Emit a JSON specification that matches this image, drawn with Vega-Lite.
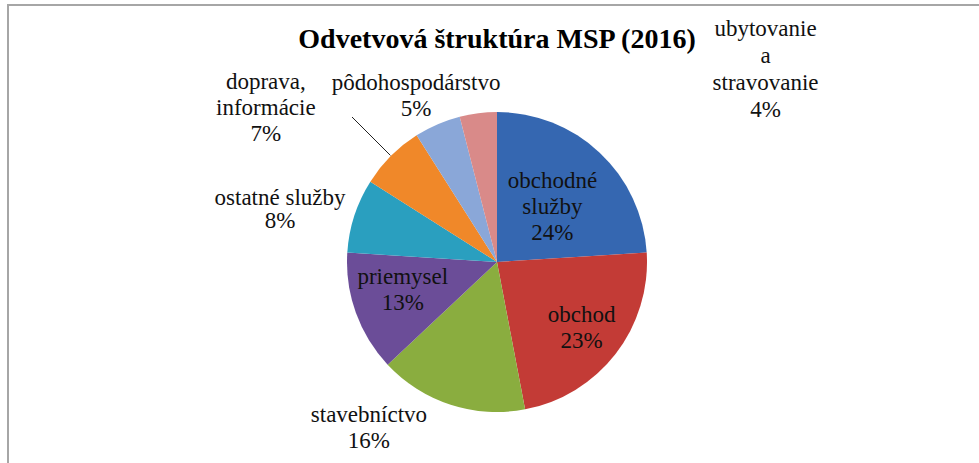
{
  "$schema": "https://vega.github.io/schema/vega-lite/v6.json",
  "autosize": "none",
  "width": 978,
  "height": 514,
  "padding": {"left": 8, "top": 5, "right": -7, "bottom": -56},
  "background": "white",
  "config": {
    "view": {"stroke": null}
  },
  "title": {
    "text": "Odvetvová štruktúra MSP (2016)",
    "font": "Liberation Serif",
    "fontSize": 28,
    "fontWeight": "bold",
    "color": "#000000",
    "anchor": "middle",
    "frame": "group",
    "baseline": "alphabetic",
    "offset": -72
  },
  "data": {
    "values": [
      {"sector": "obchodné služby", "value": 24, "label": "obchodné\nslužby\n24%"},
      {"sector": "obchod", "value": 23, "label": "obchod\n23%"},
      {"sector": "stavebníctvo", "value": 16, "label": "stavebníctvo\n16%"},
      {"sector": "priemysel", "value": 13, "label": "priemysel\n13%"},
      {"sector": "ostatné služby", "value": 8, "label": "ostatné služby\n8%"},
      {"sector": "doprava, informácie", "value": 7, "label": "doprava,\ninformácie\n7%"},
      {"sector": "pôdohospodárstvo", "value": 5, "label": "pôdohospodárstvo\n5%"},
      {"sector": "ubytovanie a stravovanie", "value": 4, "label": "ubytovanie\na\nstravovanie\n4%"}
    ]
  },
  "layer": [
    {
      "data": {"values": [{"frame": "chart area"}]},
      "mark": {"type": "rect", "fill": null, "stroke": "#a6a6a6", "strokeWidth": 2},
      "encoding": {}
    },
    {
      "mark": {"type": "arc", "outerRadius": 150},
      "encoding": {
        "theta": {"field": "value", "type": "quantitative", "stack": true},
        "order": {"field": "value", "type": "quantitative", "sort": "descending"},
        "color": {
          "field": "sector",
          "type": "nominal",
          "legend": null,
          "scale": {
            "domain": ["obchodné služby", "obchod", "stavebníctvo", "priemysel", "ostatné služby", "doprava, informácie", "pôdohospodárstvo", "ubytovanie a stravovanie"],
            "range": ["#3567b1", "#c33b36", "#8aad3f", "#6b4d98", "#2a9fbf", "#f08829", "#8aa7d8", "#d98a89"]
          }
        }
      }
    },
    {
      "mark": {"type": "arc", "filled": false, "innerRadius": 151, "outerRadius": 205, "padAngle": 0.6, "stroke": "#222222", "strokeWidth": 1},
      "encoding": {
        "theta": {"field": "value", "type": "quantitative", "stack": true},
        "order": {"field": "value", "type": "quantitative", "sort": "descending"},
        "strokeOpacity": {"condition": {"test": "datum.sector === 'doprava, informácie'", "value": 1}, "value": 0}
      }
    },
    {
      "mark": {"type": "text", "font": "Liberation Serif", "fontSize": 23, "lineBreak": "\n", "lineHeight": 26, "align": "center", "baseline": "middle", "color": "#111111", "radius": 78, "dx": 2, "dy": -24},
      "encoding": {
        "theta": {"field": "value", "type": "quantitative", "stack": true},
        "order": {"field": "value", "type": "quantitative", "sort": "descending"},
        "text": {"condition": {"test": "datum.sector === 'obchodné služby'", "field": "label", "type": "nominal"}, "value": ""}
      }
    },
    {
      "mark": {"type": "text", "font": "Liberation Serif", "fontSize": 23, "lineBreak": "\n", "lineHeight": 26, "align": "center", "baseline": "middle", "color": "#111111", "radius": 107, "dy": -13},
      "encoding": {
        "theta": {"field": "value", "type": "quantitative", "stack": true},
        "order": {"field": "value", "type": "quantitative", "sort": "descending"},
        "text": {"condition": {"test": "datum.sector === 'obchod'", "field": "label", "type": "nominal"}, "value": ""}
      }
    },
    {
      "mark": {"type": "text", "font": "Liberation Serif", "fontSize": 23, "lineBreak": "\n", "lineHeight": 26, "align": "center", "baseline": "middle", "color": "#111111", "radius": 175, "dx": -74, "dy": -13},
      "encoding": {
        "theta": {"field": "value", "type": "quantitative", "stack": true},
        "order": {"field": "value", "type": "quantitative", "sort": "descending"},
        "text": {"condition": {"test": "datum.sector === 'stavebníctvo'", "field": "label", "type": "nominal"}, "value": ""}
      }
    },
    {
      "mark": {"type": "text", "font": "Liberation Serif", "fontSize": 23, "lineBreak": "\n", "lineHeight": 26, "align": "center", "baseline": "middle", "color": "#111111", "radius": 98, "dx": -2, "dy": -18},
      "encoding": {
        "theta": {"field": "value", "type": "quantitative", "stack": true},
        "order": {"field": "value", "type": "quantitative", "sort": "descending"},
        "text": {"condition": {"test": "datum.sector === 'priemysel'", "field": "label", "type": "nominal"}, "value": ""}
      }
    },
    {
      "mark": {"type": "text", "font": "Liberation Serif", "fontSize": 23, "lineBreak": "\n", "lineHeight": 23, "align": "center", "baseline": "middle", "color": "#111111", "radius": 225, "dx": -3, "dy": 6},
      "encoding": {
        "theta": {"field": "value", "type": "quantitative", "stack": true},
        "order": {"field": "value", "type": "quantitative", "sort": "descending"},
        "text": {"condition": {"test": "datum.sector === 'ostatné služby'", "field": "label", "type": "nominal"}, "value": ""}
      }
    },
    {
      "mark": {"type": "text", "font": "Liberation Serif", "fontSize": 23, "lineBreak": "\n", "lineHeight": 26, "align": "center", "baseline": "middle", "color": "#111111", "radius": 218, "dx": -77, "dy": -26},
      "encoding": {
        "theta": {"field": "value", "type": "quantitative", "stack": true},
        "order": {"field": "value", "type": "quantitative", "sort": "descending"},
        "text": {"condition": {"test": "datum.sector === 'doprava, informácie'", "field": "label", "type": "nominal"}, "value": ""}
      }
    },
    {
      "mark": {"type": "text", "font": "Liberation Serif", "fontSize": 23, "lineBreak": "\n", "lineHeight": 26, "align": "center", "baseline": "middle", "color": "#111111", "radius": 181, "dx": -9, "dy": -13},
      "encoding": {
        "theta": {"field": "value", "type": "quantitative", "stack": true},
        "order": {"field": "value", "type": "quantitative", "sort": "descending"},
        "text": {"condition": {"test": "datum.sector === 'pôdohospodárstvo'", "field": "label", "type": "nominal"}, "value": ""}
      }
    },
    {
      "mark": {"type": "text", "font": "Liberation Serif", "fontSize": 23, "lineBreak": "\n", "lineHeight": 27, "align": "center", "baseline": "middle", "color": "#111111", "radius": 195, "dx": 293, "dy": -40},
      "encoding": {
        "theta": {"field": "value", "type": "quantitative", "stack": true},
        "order": {"field": "value", "type": "quantitative", "sort": "descending"},
        "text": {"condition": {"test": "datum.sector === 'ubytovanie a stravovanie'", "field": "label", "type": "nominal"}, "value": ""}
      }
    }
  ]
}
